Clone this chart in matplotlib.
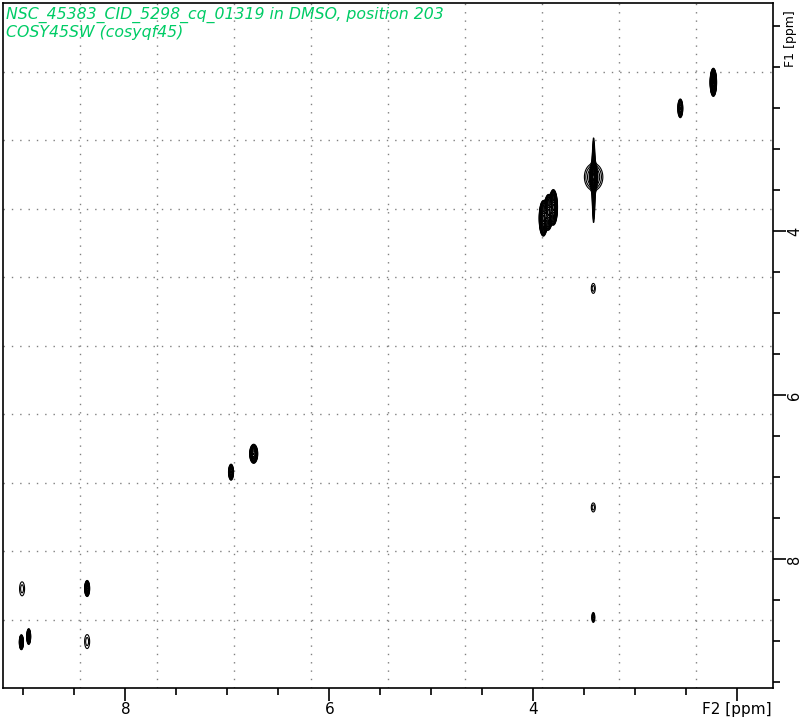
import numpy as np
import matplotlib
matplotlib.use("Agg")
import matplotlib.pyplot as plt
import matplotlib.transforms as mtransforms
from matplotlib.ticker import FixedLocator, MultipleLocator

# ---- data: COSY peak list (F2 ppm, F1 ppm, intensity, widths in ppm) ----
peak_f2 = [2.235, 2.559, 3.409, 3.409, 3.409, 3.902, 3.853, 3.804, 3.412, 6.742,
           6.964, 3.412, 3.412, 9.013, 8.375, 9.020, 8.948, 8.375]
peak_f1 = [2.187, 2.504, 3.341, 3.341, 3.380, 3.845, 3.772, 3.711, 4.699, 6.715,
           6.939, 7.369, 8.710, 8.361, 8.357, 9.012, 8.943, 9.004]
peak_amp = [60, 8, 60, 2.2, 5, 40, 40, 40, 1.4, 15,
            8, 1.4, 2.5, 1.4, 12, 12, 10, 1.4]
peak_wf2 = [0.011, 0.012, 0.012, 0.072, 0.008, 0.015, 0.015, 0.015, 0.024, 0.017,
            0.012, 0.024, 0.011, 0.030, 0.011, 0.009, 0.009, 0.030]
peak_wf1 = [0.060, 0.056, 0.055, 0.130, 0.290, 0.080, 0.080, 0.080, 0.074, 0.050,
            0.048, 0.067, 0.045, 0.104, 0.044, 0.041, 0.045, 0.104]

title_lines = ["NSC_45383_CID_5298_cq_01319 in DMSO, position 203",
               "COSY45SW (cosyqf45)"]
x_major = [8, 6, 4, 2]
x_major_labels = ["8", "6", "4", "F2 [ppm]"]
y_major = [4, 6, 8]
y_major_labels = ["4", "6", "8"]
x_range = (9.20, 1.65)
y_range = (9.57, 1.22)

W, H = 802, 717
fig = plt.figure(figsize=(W / 100, H / 100), dpi=100)
ax = fig.add_axes([3 / W, (H - 688) / H, 770 / W, 685 / H])

# spectrum grid
gx = np.linspace(min(x_range), max(x_range), 1600)
gy = np.linspace(min(y_range), max(y_range), 1400)
Z = np.zeros((gy.size, gx.size))
for x0, y0, a, sx, sy in zip(peak_f2, peak_f1, peak_amp, peak_wf2, peak_wf1):
    ex = np.exp(-0.5 * ((gx - x0) / sx) ** 2)
    ey = np.exp(-0.5 * ((gy - y0) / sy) ** 2)
    Z += a * np.outer(ey, ex)
levels = 1.0 * 1.25 ** np.arange(0, 28)
ax.contour(gx, gy, Z, levels=levels, colors="black", linewidths=0.8)

ax.set_xlim(*x_range)
ax.set_ylim(*y_range)

# dotted grid dividing each axis into 10 parts
for f in np.arange(1, 10) / 10:
    ax.plot([f, f], [0, 1], transform=ax.transAxes, ls=(0, (1, 5)),
            color="#808080", lw=1.0, zorder=0)
    ax.plot([0, 1], [f, f], transform=ax.transAxes, ls=(0, (1, 5)),
            color="#808080", lw=1.0, zorder=0)

ax.xaxis.set_major_locator(FixedLocator(x_major))
ax.set_xticklabels(x_major_labels)
ax.xaxis.set_minor_locator(MultipleLocator(0.5))
ax.yaxis.tick_right()
ax.yaxis.set_major_locator(FixedLocator(y_major))
ax.set_yticklabels(y_major_labels, rotation=90, va="center")
ax.yaxis.set_minor_locator(MultipleLocator(0.5))
ax.tick_params(which="major", length=9, width=1.2, direction="out",
               colors="black")
ax.tick_params(axis="x", which="major", labelsize=11, pad=1)
ax.tick_params(axis="y", which="major", labelsize=10.5, pad=1)
ax.tick_params(which="minor", length=5, width=1.2, direction="out")
for s in ax.spines.values():
    s.set_linewidth(1.2)

trans = mtransforms.blended_transform_factory(ax.transAxes, ax.transData)
ax.text(1.0 + 17 / 770, 2.0, "F1 [ppm]", transform=trans, rotation=90,
        rotation_mode="anchor", ha="left", va="center", fontsize=9)

green = "#00cc66"
fig.text(6 / W, 1 - 15 / H, title_lines[0], color=green, style="italic",
         fontsize=11.3, va="center", ha="left")
fig.text(6 / W, 1 - 33 / H, title_lines[1], color=green, style="italic",
         fontsize=11.3, va="center", ha="left")

fig.savefig("out.png", dpi=100)
